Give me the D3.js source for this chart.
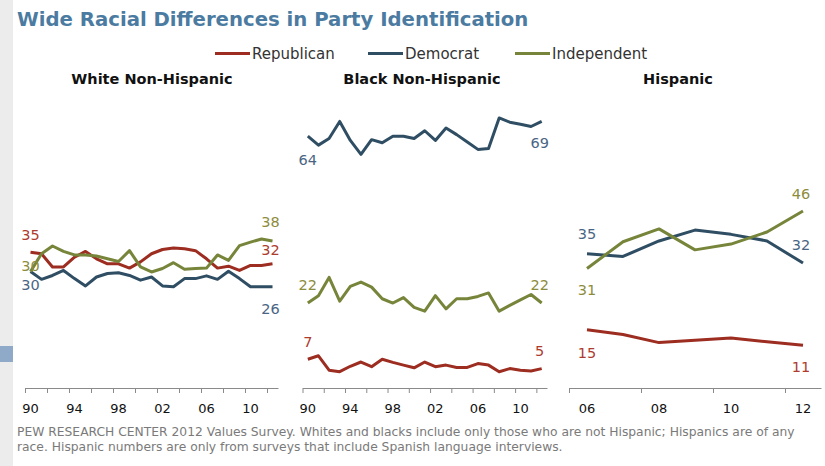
<!DOCTYPE html>
<html>
<head>
<meta charset="utf-8">
<script src="https://cdn.jsdelivr.net/npm/d3@7"></script>
<style>
  body { margin: 0; background: #fff; }
  svg { display: block; font-family: "DejaVu Sans", Verdana, sans-serif; }
</style>
</head>
<body>
<svg id="chart" width="825" height="466"></svg>
<script>
// PARTY IDENTIFICATION BY RACE

// DATA
var seriesNames = ["Republican", "Democrat", "Independent"];

var longYears = [1990, 1991, 1992, 1993, 1994, 1995, 1996, 1997, 1998, 1999, 2000, 2001,
                 2002, 2003, 2004, 2005, 2006, 2007, 2008, 2009, 2010, 2011, 2012];
var hispYears = [2006, 2007, 2008, 2009, 2010, 2011, 2012];

var whiteRep = [35, 34.6, 31.2, 31.2, 33.7, 35.2, 33.3, 32, 32, 30.9, 32.5, 34.6, 35.7, 36.1, 35.9, 35.4, 33.3, 30.9, 31.4, 30.3, 31.6, 31.6, 32];
var whiteDem = [30, 28, 29, 30.3, 28.2, 26.3, 28.6, 29.5, 29.7, 29, 27.8, 28.6, 26.3, 26.1, 28.2, 28.2, 28.9, 28, 30.1, 28.2, 26.1, 26.1, 26.1];
var whiteInd = [30, 34.6, 36.6, 35.2, 34.3, 34.3, 34, 33.3, 32.6, 35.4, 31.2, 29.9, 30.8, 32.3, 30.6, 30.8, 30.9, 34.3, 32.9, 36.7, 37.6, 38.4, 37.9];

var blackRep = [7.4, 8.3, 4.6, 4.2, 5.6, 6.7, 5.5, 7.4, 6.6, 5.9, 5.2, 6.7, 5.5, 5.9, 5.3, 5.3, 6.3, 5.9, 4.2, 5, 4.6, 4.4, 5];
var blackDem = [64.9, 62.6, 64.3, 68.7, 63.8, 60.2, 64, 63.2, 64.9, 64.9, 64.3, 66.3, 63.8, 67, 65.3, 63.4, 61.5, 61.7, 69.6, 68.5, 68, 67.4, 68.7];
var blackInd = [21.9, 23.8, 28.5, 22.4, 26.2, 27.3, 26, 23, 21.9, 23.3, 20.8, 19.8, 23.8, 20.4, 23, 23, 23.6, 24.5, 19.8, 21.3, 22.7, 24.1, 21.9];

var hispRep = [15, 13.8, 11.7, 12.3, 12.9, 11.9, 11];
var hispDem = [34.6, 33.9, 37.9, 40.7, 39.6, 37.9, 32.2];
var hispInd = [30.8, 37.7, 41, 35.6, 37.1, 40.2, 45.6];

// start / end labels, order = Republican, Democrat, Independent
var whiteStartLabels = ["35", "30", "30"];
var whiteEndLabels = ["32", "26", "38"];
var blackStartLabels = ["7", "64", "22"];
var blackEndLabels = ["5", "69", "22"];
var hispStartLabels = ["15", "35", "31"];
var hispEndLabels = ["11", "32", "46"];

var longTickLabels = ["90", "94", "98", "02", "06", "10"];
var longTickYears = [1990, 1994, 1998, 2002, 2006, 2010];
var hispTickLabels = ["06", "08", "10", "12"];
var hispTickYears = [2006, 2008, 2010, 2012];

var titleText = "Wide Racial Differences in Party Identification";
var noteLines = [
	"PEW RESEARCH  CENTER 2012 Values Survey. Whites and blacks include only those who are not Hispanic; Hispanics are of any",
	"race. Hispanic numbers are only from surveys that include Spanish language interviews."
];

// STYLE
var lineColors = ["#9c2d20", "#2f4e64", "#76853a"];
var labelColors = ["#ad3b2e", "#4a6584", "#8d8c3c"];

var svg = d3.select("#chart");

var yScale = d3.scaleLinear()
	.domain([0, 80])
	.range([388, 77.6]);

// background strip on the left
svg.append("rect").attr("x", 0).attr("y", 0).attr("width", 13).attr("height", 466).style("fill", "#ececec");
svg.append("rect").attr("x", 0).attr("y", 346).attr("width", 13).attr("height", 16).style("fill", "#8eaac8");

// TITLE
svg.append("text")
	.attr("x", 17).attr("y", 26)
	.style("font-size", "19.7px").style("font-weight", "bold")
	.style("fill", "#4b7ba1")
	.text(titleText);

// LEGEND
var legendX = [215, 368, 515];
seriesNames.forEach(function(name, i) {
	svg.append("line")
		.attr("x1", legendX[i]).attr("x2", legendX[i] + 35)
		.attr("y1", 53.5).attr("y2", 53.5)
		.style("stroke", lineColors[i]).style("stroke-width", 3);
	svg.append("text")
		.attr("x", legendX[i] + 37).attr("y", 59)
		.style("font-size", "15px").style("fill", "#333")
		.text(name);
});

// PANELS
var panels = [
	{ title: "White Non-Hispanic", titleX: 152, years: longYears, series: [whiteRep, whiteDem, whiteInd],
	  range: [25, 278], startLabels: whiteStartLabels, endLabels: whiteEndLabels,
	  startDy: [-12, 18, -1], endDy: [-9, 27, -14],
	  tickYears: longTickYears, tickLabels: longTickLabels },
	{ title: "Black Non-Hispanic", titleX: 422, years: longYears, series: [blackRep, blackDem, blackInd],
	  range: [302.5, 547], startLabels: blackStartLabels, endLabels: blackEndLabels,
	  startDy: [-12, 29, -13], endDy: [-13, 27, -13],
	  tickYears: longTickYears, tickLabels: longTickLabels },
	{ title: "Hispanic", titleX: 678, years: hispYears, series: [hispRep, hispDem, hispInd],
	  range: [569, 821], startLabels: hispStartLabels, endLabels: hispEndLabels,
	  startDy: [28, -15, 27], endDy: [27, -13, -12],
	  tickYears: hispTickYears, tickLabels: hispTickLabels }
];

panels.forEach(drawPanel);

function drawPanel(p) {
	var first = p.years[0], last = p.years[p.years.length - 1];
	var xScale = d3.scaleLinear()
		.domain([first - 0.5, last + 0.5])
		.range(p.range);

	svg.append("text")
		.attr("x", p.titleX).attr("y", 84)
		.attr("text-anchor", "middle")
		.style("font-size", "14.5px").style("font-weight", "bold").style("fill", "#111")
		.text(p.title);

	// axis: tick marks between years, labels on the years
	var tickMarks = p.years.filter(function(y, i) { return i % 2 == 0; })
		.map(function(y) { return y - 0.5; });
	var axis = svg.append("g")
		.attr("transform", "translate(0,388)")
		.call(d3.axisBottom(xScale)
			.tickValues(tickMarks)
			.tickSize(5)
			.tickSizeOuter(0)
			.tickFormat(""));
	axis.selectAll("path, line").style("stroke", "#8a8a8a");

	svg.selectAll(null)
		.data(p.tickYears)
		.enter()
		.append("text")
		.attr("x", function(d) { return xScale(d); })
		.attr("y", 413)
		.attr("text-anchor", "middle")
		.style("font-size", "13px").style("fill", "#111")
		.text(function(d, i) { return p.tickLabels[i]; });

	var line = d3.line()
		.x(function(d, i) { return xScale(p.years[i]); })
		.y(function(d) { return yScale(d); });

	p.series.forEach(function(values, s) {
		svg.append("path")
			.datum(values)
			.attr("d", line)
			.style("fill", "none")
			.style("stroke", lineColors[s])
			.style("stroke-width", 3)
			.style("stroke-linejoin", "round");

		svg.append("text")
			.attr("x", xScale(first))
			.attr("y", yScale(values[0]) + p.startDy[s])
			.attr("text-anchor", "middle")
			.style("font-size", "14.5px").style("fill", labelColors[s])
			.text(p.startLabels[s]);

		svg.append("text")
			.attr("x", xScale(last) - 2)
			.attr("y", yScale(values[values.length - 1]) + p.endDy[s])
			.attr("text-anchor", "middle")
			.style("font-size", "14.5px").style("fill", labelColors[s])
			.text(p.endLabels[s]);
	});
}

// NOTE
noteLines.forEach(function(t, i) {
	svg.append("text")
		.attr("x", 17).attr("y", 436 + i * 15)
		.style("font-size", "12.3px").style("fill", "#7a7a7a")
		.text(t);
});
</script>
</body>
</html>
